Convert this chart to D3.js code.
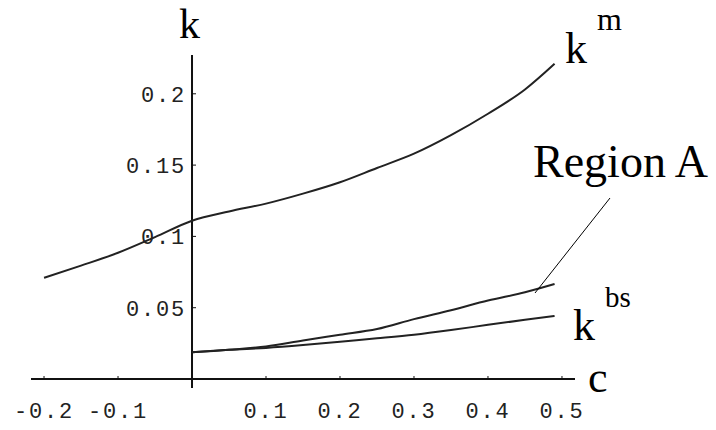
<!DOCTYPE html>
<html>
<head>
<meta charset="utf-8">
<script src="https://cdn.jsdelivr.net/npm/d3@7"></script>
<style>
  html, body { margin: 0; padding: 0; background: #fff; }
  svg { display: block; }
  .tick-label { font-family: "Liberation Mono", "DejaVu Sans Mono", monospace; font-size: 22px; fill: #222; letter-spacing: 1.8px; }
  .lbl { font-family: "Liberation Serif", "Times New Roman", serif; fill: #000; }
</style>
</head>
<body>
<svg id="chart" width="716" height="430"></svg>
<script>
// ---- data ----
const cValues = [0, 0.05, 0.1, 0.15, 0.2, 0.25, 0.3, 0.35, 0.4, 0.45, 0.49];
const kmC = [-0.2, -0.15, -0.1, -0.05, 0, 0.05, 0.1, 0.15, 0.2, 0.25, 0.3, 0.35, 0.4, 0.45, 0.49];
const kmValues = [0.071, 0.0795, 0.0885, 0.0995, 0.111, 0.1175, 0.123, 0.130, 0.138, 0.148, 0.158, 0.171, 0.186, 0.203, 0.221];
const regionAValues = [0.0187, 0.0205, 0.0228, 0.027, 0.031, 0.035, 0.042, 0.0482, 0.055, 0.0608, 0.0666];
const kbsValues = [0.0187, 0.0205, 0.0218, 0.0238, 0.0262, 0.0285, 0.031, 0.0343, 0.038, 0.0415, 0.0442];
const xTicks = [-0.2, -0.1, 0.1, 0.2, 0.3, 0.4, 0.5];
const yTicks = [0.05, 0.1, 0.15, 0.2];
const xTickLabels = ["-0.2", "-0.1", "0.1", "0.2", "0.3", "0.4", "0.5"];
const yTickLabels = ["0.05", "0.1", "0.15", "0.2"];

const svg = d3.select("#chart");

const x = d3.scaleLinear().domain([-0.2176, 0.5176]).range([31, 575]);
const y = d3.scaleLinear().domain([-0.0063, 0.2272]).range([388, 55]);

const ink = "#111";

// axes lines
svg.append("line").attr("x1", x(-0.2176)).attr("x2", x(0.5176)).attr("y1", y(0)).attr("y2", y(0))
  .attr("stroke", ink).attr("stroke-width", 2);
svg.append("line").attr("x1", x(0)).attr("x2", x(0)).attr("y1", y(-0.0063)).attr("y2", y(0.2272))
  .attr("stroke", ink).attr("stroke-width", 2);

// y ticks
yTicks.forEach((t, i) => {
  svg.append("line").attr("x1", x(0)).attr("x2", x(0) + 4).attr("y1", y(t)).attr("y2", y(t))
    .attr("stroke", ink).attr("stroke-width", 1);
  svg.append("text").attr("class", "tick-label")
    .attr("x", x(0) - 6).attr("y", y(t)).attr("dy", "0.36em")
    .attr("text-anchor", "end").text(yTickLabels[i]);
});
// x ticks (small, pointing into the plot)
xTicks.forEach((t, i) => {
  svg.append("line").attr("x1", x(t)).attr("x2", x(t)).attr("y1", y(0)).attr("y2", y(0) - 3)
    .attr("stroke", ink).attr("stroke-width", 1);
  svg.append("text").attr("class", "tick-label")
    .attr("x", x(t)).attr("y", 418)
    .attr("text-anchor", "middle").text(xTickLabels[i]);
});

const line = d3.line().x(d => x(d[0])).y(d => y(d[1])).curve(d3.curveMonotoneX);

function drawSeries(cs, ks) {
  svg.append("path").datum(cs.map((c, i) => [c, ks[i]]))
    .attr("d", line).attr("fill", "none").attr("stroke", "#222").attr("stroke-width", 2);
}
drawSeries(kmC, kmValues);
drawSeries(cValues, regionAValues);
drawSeries(cValues, kbsValues);

// pointer line for Region A
svg.append("line").attr("x1", 610).attr("y1", 198).attr("x2", 535).attr("y2", 293)
  .attr("stroke", "#000").attr("stroke-width", 1);

// labels
svg.append("text").attr("class", "lbl").attr("x", 179).attr("y", 37.5).attr("font-size", 42).text("k");
svg.append("text").attr("class", "lbl").attr("x", 588).attr("y", 392).attr("font-size", 44).text("c");
svg.append("text").attr("class", "lbl").attr("x", 565).attr("y", 63).attr("font-size", 44).text("k");
svg.append("text").attr("class", "lbl").attr("x", 597).attr("y", 30).attr("font-size", 32).text("m");
svg.append("text").attr("class", "lbl").attr("x", 533).attr("y", 177).attr("font-size", 46).text("Region A");
svg.append("text").attr("class", "lbl").attr("x", 573).attr("y", 340).attr("font-size", 44).text("k");
svg.append("text").attr("class", "lbl").attr("x", 605).attr("y", 307).attr("font-size", 29).text("bs");
</script>
</body>
</html>
